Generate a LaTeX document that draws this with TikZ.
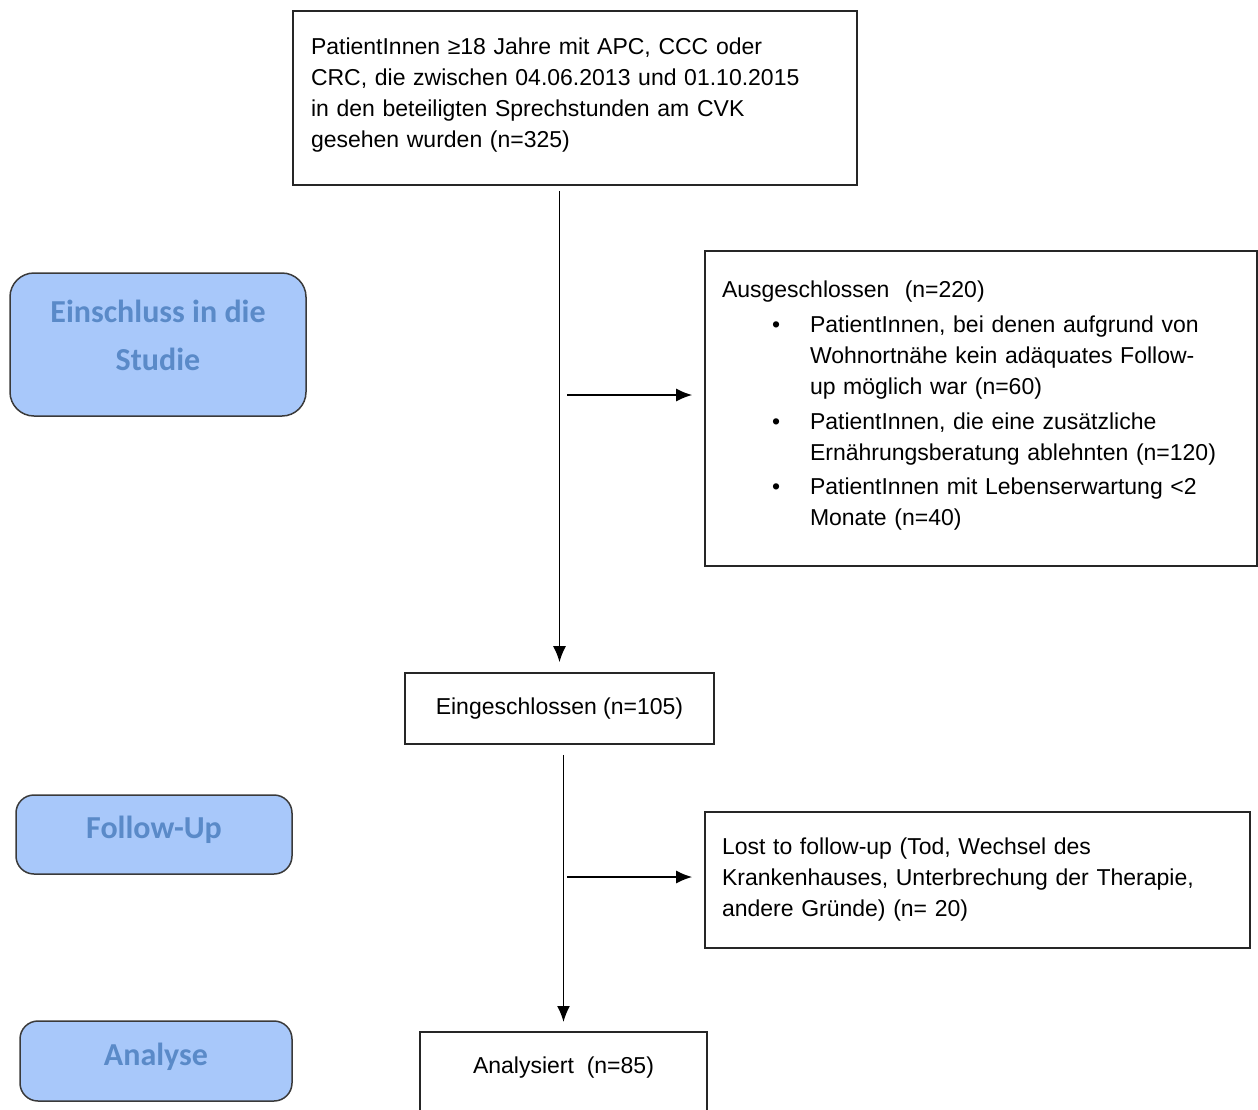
\documentclass[tikz,border=0pt]{standalone}
\usepackage{fontspec}
\setmainfont{Liberation Sans}
\newfontfamily\phasefont{Carlito}
\usepackage{tikz}
\usetikzlibrary{arrows.meta,shapes}

\newcommand{\bitem}{\hspace*{50pt}\makebox[38pt][l]{\textbullet}}
\newcommand{\bcont}{\hspace*{88pt}}

\begin{document}
\begin{tikzpicture}[x=1pt,y=-1pt,>={Latex[length=16pt,width=13pt]}]

\definecolor{pfill}{HTML}{A8C8FA} % light blue
\definecolor{ptxt}{HTML}{5A8AC8}  % mid blue
\definecolor{pline}{HTML}{3A3A3A} % dark grey

\tikzstyle{box}=[rectangle,draw=black!85,line width=1.6pt,fill=white,
	align=left,font=\fontsize{23}{31}\selectfont,inner ysep=6pt]

\tikzstyle{phase}=[rectangle,rounded corners=18pt,draw=pline,line width=1.5pt,
	fill=pfill,text=ptxt,align=center,text depth=14pt,
	font=\phasefont\bfseries\fontsize{32}{48}\selectfont]

\tikzstyle{flow}=[->,line width=1.7pt]

  \useasboundingbox (0,0) rectangle (1258,1109);

  \node  (pat)  at (575,98)     [box,text width=528pt,inner xsep=18pt,minimum height=174pt]
         {PatientInnen ≥18 Jahre mit APC, CCC oder\\
          CRC, die zwischen 04.06.2013 und 01.10.2015\\
          in den beteiligten Sprechstunden am CVK\\
          gesehen wurden (n=325)\\[-20pt]\mbox{}};

  \node  (excl) at (981,408.5)  [box,text width=518pt,inner xsep=17pt,minimum height=315pt]
         {Ausgeschlossen~ (n=220)\\[4pt]
          \bitem PatientInnen, bei denen aufgrund von\\
          \bcont Wohnortnähe kein adäquates Follow-\\
          \bcont up möglich war (n=60)\\[4pt]
          \bitem PatientInnen, die eine zusätzliche\\
          \bcont Ernährungsberatung ablehnten (n=120)\\[3pt]
          \bitem PatientInnen mit Lebenserwartung <2\\
          \bcont Monate (n=40)\\[-20pt]\mbox{}};

  \node  (eing) at (559.5,708.5) [box,align=center,minimum width=309pt,minimum height=71pt]
         {Eingeschlossen (n=105)};

  \node  (lost) at (977.5,880)  [box,text width=511pt,inner xsep=17pt,minimum height=136pt]
         {Lost to follow-up (Tod, Wechsel des\\
          Krankenhauses, Unterbrechung der Therapie,\\
          andere Gründe) (n= 20)};

  \node  (ana)  at (563.5,1031) [box,anchor=north,align=center,minimum width=287pt,
         inner ysep=18pt,text height=24pt,text depth=50pt]
         {Analysiert~ (n=85)};

  \node  (ein)  at (158,344.5)  [phase,minimum width=296pt,minimum height=143pt,
         rounded corners=24pt,text depth=18pt]
         {Einschluss in die\\Studie};
  \node  (fol)  at (154,834.5)  [phase,minimum width=276pt,minimum height=79pt]
         {Follow-Up};
  \node  (anl)  at (156,1061)   [phase,minimum width=272pt,minimum height=80pt]
         {Analyse};

  \coordinate (s1) at (567,395);
  \coordinate (s2) at (567,877);

  \path (pat.south -| eing.north) edge [flow,shorten <=5pt,shorten >=10pt] (eing.north)
        (eing.south -| ana.north) edge [flow,shorten <=10pt,shorten >=9pt] (ana.north)

        (s1) edge [flow,shorten >=12pt] (s1 -| excl.west)
        (s2) edge [flow,shorten >=12pt] (s2 -| lost.west);

\end{tikzpicture}
\end{document}
